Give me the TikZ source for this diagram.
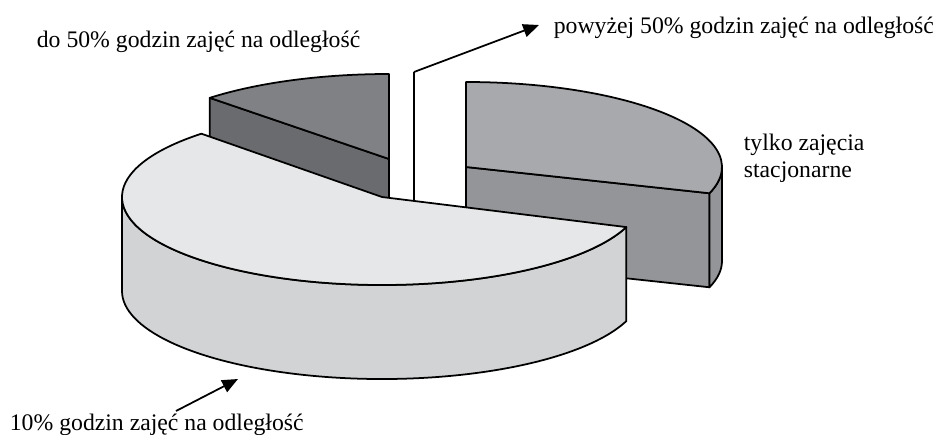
\documentclass[tikz,border=0pt]{standalone}
\usepackage{fontspec}
\setmainfont{Liberation Serif}
\usetikzlibrary{arrows.meta}
\definecolor{ciemnyT}{RGB}{128,129,132}
\definecolor{ciemnyB}{RGB}{106,107,111}
\definecolor{szaryT}{RGB}{167,169,172}
\definecolor{szaryB}{RGB}{147,149,152}
\definecolor{jasnyT}{RGB}{230,231,232}
\definecolor{jasnyB}{RGB}{209,211,212}
\begin{document}
\begin{tikzpicture}[>={Triangle[length=9pt,width=7.5pt]},x=0.02cm,y=0.02cm,
  line width=1pt,line join=round,
  opis/.style={font=\fontsize{13.5}{15.5}\selectfont,inner sep=0pt}]
\def\h{94} % wysokosc plastra
\useasboundingbox (0,0) rectangle (941,434);
% do 50% godzin
\coordinate (S1) at (389,275);
\filldraw[fill=ciemnyB] (S1) -- ++(0,-\h) -- ++(134:258 and 85) -- ++(0,\h) -- cycle;
\filldraw[fill=ciemnyT] (S1) -- ++(0,85) arc[start angle=90,end angle=134,x radius=258,y radius=85] -- cycle;
% powyzej 50%
\coordinate (W) at (414,362);
\coordinate (Wd) at (414,185);
\draw (W) -- (Wd);
% tylko zajecia stacjonarne
\coordinate (S2) at (466,267);
\path (S2) ++(-18:256 and 85) coordinate (S2r);
\filldraw[fill=szaryB] (S2) -- ++(0,-\h) -- ++(-18:256 and 85) -- ++(0,\h) -- cycle;
\filldraw[fill=szaryB] (S2r) arc[start angle=-18,end angle=0,x radius=256,y radius=85] -- ++(0,-\h)
  arc[start angle=0,end angle=-18,x radius=256,y radius=85] -- cycle;
\filldraw[fill=szaryT] (S2) -- (S2r) arc[start angle=-18,end angle=90,x radius=256,y radius=85] -- cycle;
% 10% godzin
\coordinate (S3) at (382,237);
\path (S3) ++(180:260 and 88) coordinate (S3l);
\filldraw[fill=jasnyB] (S3l) arc[start angle=180,end angle=340,x radius=260,y radius=88] -- ++(0,-\h)
  arc[start angle=340,end angle=180,x radius=260,y radius=88] -- cycle;
\filldraw[fill=jasnyT] (S3) -- ++(134:260 and 88) arc[start angle=134,end angle=340,x radius=260,y radius=88] -- cycle;
% opisy
\node[opis,anchor=base west] (do50) at (36,387) {do 50\% godzin zajęć na odległość};
\node[opis,anchor=base west] (powyzej) at (553,401) {powyżej 50\% godzin zajęć na odległość};
\node[opis,anchor=west,align=left] (tylko) at (743,276) {tylko zajęcia\\stacjonarne};
\node[opis,anchor=base west] (dziesiec) at (9,4) {10\% godzin zajęć na odległość};
\coordinate (powTip) at (539,409);
\coordinate (dzStart) at (176,23);
\coordinate (dzTip) at (238,55);
\draw[->] (W) -- (powTip);
\draw[->] (dzStart) -- (dzTip);
\end{tikzpicture}
\end{document}
